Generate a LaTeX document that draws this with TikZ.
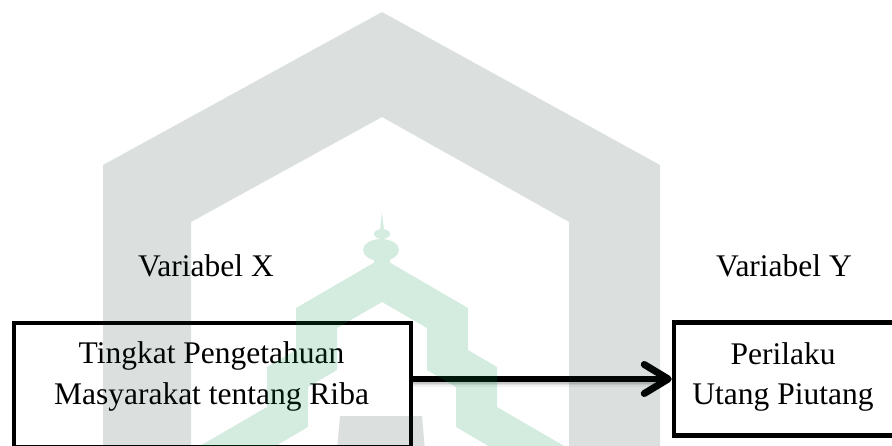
\documentclass[tikz,border=0pt]{standalone}
\usepackage{fontspec}
\setmainfont{Liberation Serif}
\usetikzlibrary{arrows.meta}

\definecolor{wmgrey}{RGB}{15,48,35}
\definecolor{wmgreen}{RGB}{0,145,70}

\tikzset{
  varbox/.style={draw=black, line width=4.5pt, inner sep=0pt},
  boxtext/.style={font=\fontsize{31.5}{40}\selectfont, align=center, inner sep=0pt, anchor=base},
  vartext/.style={font=\fontsize{31.5}{40}\selectfont, inner sep=0pt, anchor=base},
  link/.style={line width=6.5pt, -{Straight Barb[length=24pt,width=29pt,line width=7pt,round]}},
}

\begin{document}
\begin{tikzpicture}[x=1pt,y=-1pt]
  \useasboundingbox (0,0) rectangle (892,446);
  \clip (0,0) rectangle (892,446);

  % boxes
  \node[varbox, minimum width=397pt, minimum height=124pt] (bx) at (212.5,385) {};
  \node[varbox, minimum width=222pt, minimum height=113pt] (by) at (785,379) {};

  % box texts
  \node[boxtext] (tx1) at (211.5,364) {Tingkat Pengetahuan};
  \node[boxtext] (tx2) at (211.5,404) {Masyarakat tentang Riba};
  \node[boxtext] (ty1) at (783,365) {Perilaku};
  \node[boxtext] (ty2) at (783,405) {Utang Piutang};

  % variable headings
  \node[vartext] (vx) at (206,277) {Variabel X};
  \node[vartext] (vy) at (784,277) {Variabel Y};

  % soft shadow under the arrow
  \coordinate (as) at (bx.east |- by.west);
  \foreach \o/\a in {2/0.10,3.5/0.08,5/0.05}
    \draw[line width=6pt, black, opacity=\a] ([yshift=-\o pt]as) -- ([xshift=-8pt,yshift=-\o pt]by.west);
  % arrow
  \draw[link] (as) -- (by.west);

  % watermark: grey house outline and door
  \begin{scope}[transparency group, opacity=0.15]
    \fill[wmgrey, even odd rule]
      (103,450) -- (103,165) -- (382,12) -- (660,165) -- (660,450) -- cycle
      (191,450) -- (191,222) -- (382,117) -- (569,222) -- (569,450) -- cycle;
    \fill[wmgrey] (340,416) -- (422,416) -- (425,450) -- (337,450) -- cycle;
  \end{scope}

  % watermark: green tiered roof with minaret
  \begin{scope}[transparency group, opacity=0.17]
    \fill[wmgreen] (382,212) -- (384,230) -- (380,230) -- cycle;
    \fill[wmgreen] (382,234) ellipse (8 and 5);
    \fill[wmgreen] (381,250) ellipse (18 and 11);
    \fill[wmgreen] (374,258) rectangle (390,266);
    \fill[wmgreen]
      (198,447) -- (267,407) -- (267,367) -- (296,350) -- (296,308) -- (382,258)
      -- (468,308) -- (468,350) -- (497,367) -- (497,407) -- (566,447)
      -- (490,447) -- (456,427) -- (456,387) -- (427,370) -- (427,328) -- (382,302)
      -- (337,328) -- (337,370) -- (308,387) -- (308,427) -- (274,447) -- cycle;
  \end{scope}
\end{tikzpicture}
\end{document}
